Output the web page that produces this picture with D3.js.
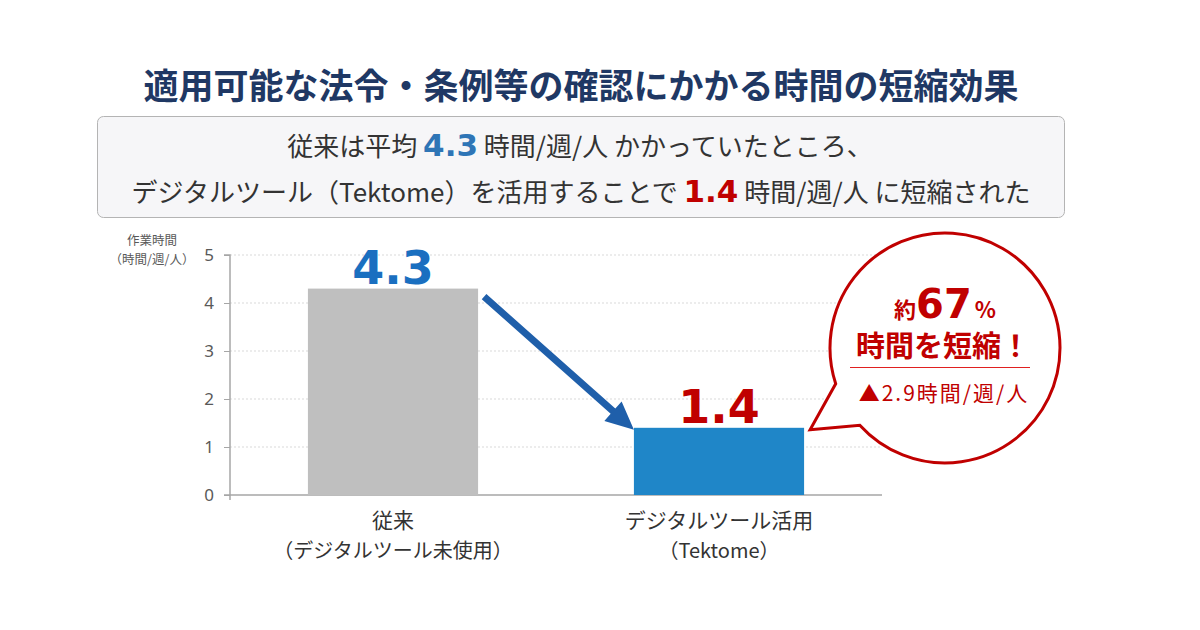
<!DOCTYPE html>
<html>
<head>
<meta charset="utf-8">
<script src="https://cdn.jsdelivr.net/npm/d3@7"></script>
<style>
  body { margin: 0; background: #fff; }
  svg { display: block; }
  .jp { font-family: "Noto Sans CJK JP", "Noto Sans", sans-serif; }
  .num { font-family: "DejaVu Sans", Verdana, sans-serif; font-weight: bold; }
</style>
</head>
<body>
<svg id="chart" width="1200" height="630"></svg>
<script>
// data
var categories = ["従来", "デジタルツール活用"];
var subLabels = ["（デジタルツール未使用）", "（Tektome）"];
var values = [4.3, 1.4];
var yTicks = [0, 1, 2, 3, 4, 5];
var reduction = 2.9;
var reductionPct = 67;

var titleText = "適用可能な法令・条例等の確認にかかる時間の短縮効果";
var yTitle = ["作業時間", "（時間/週/人）"];

var svg = d3.select("#chart");

// layout
var lPad = 230, rEdge = 882, tPad = 255, baseY = 495;

var x = d3.scaleBand()
  .domain(categories)
  .range([lPad, rEdge])
  .paddingInner(0.478)
  .paddingOuter(0.239);

var y = d3.scaleLinear()
  .domain([0, 5])
  .range([baseY, tPad]);

// title
svg.append("text")
  .attr("class", "jp")
  .attr("x", 581).attr("y", 99)
  .attr("text-anchor", "middle")
  .attr("font-size", 35).attr("font-weight", "bold")
  .attr("fill", "#1f3864")
  .text(titleText);

// summary box
svg.append("rect")
  .attr("x", 97.5).attr("y", 116.5)
  .attr("width", 967).attr("height", 101)
  .attr("rx", 6)
  .attr("fill", "#f6f6f8")
  .attr("stroke", "#b4b4b4");

var line1 = svg.append("text").attr("class", "jp")
  .attr("x", 580).attr("y", 156)
  .attr("text-anchor", "middle")
  .attr("font-size", 26).attr("fill", "#333");
line1.append("tspan").text("従来は平均 ");
line1.append("tspan").attr("class", "num").attr("font-size", 31)
  .attr("fill", "#2e75b6").text(values[0]);
line1.append("tspan").text(" 時間/週/人 かかっていたところ、");

var line2 = svg.append("text").attr("class", "jp")
  .attr("x", 581).attr("y", 202)
  .attr("text-anchor", "middle")
  .attr("font-size", 26).attr("fill", "#333");
line2.append("tspan").text("デジタルツール（Tektome）を活用することで ");
line2.append("tspan").attr("class", "num").attr("font-size", 31)
  .attr("fill", "#c00000").text(values[1]);
line2.append("tspan").text(" 時間/週/人 に短縮された");

// gridlines
svg.append("g")
  .selectAll("line")
  .data(yTicks.slice(1))
  .enter().append("line")
  .attr("x1", lPad).attr("x2", rEdge)
  .attr("y1", function(d) { return y(d); })
  .attr("y2", function(d) { return y(d); })
  .attr("stroke", "#d9d9d9")
  .attr("stroke-dasharray", "2,2");

// y axis
var yAxis = d3.axisLeft(y)
  .tickValues(yTicks)
  .tickSize(6)
  .tickPadding(10)
  .tickFormat(d3.format("d"));

var yg = svg.append("g")
  .attr("transform", "translate(" + lPad + ",0)")
  .call(yAxis);
yg.select(".domain").attr("stroke", "#a6a6a6").attr("stroke-width", 1.5)
  .attr("d", "M-6," + tPad + "H0V" + (baseY + 5));
yg.selectAll(".tick line").attr("stroke", "#a6a6a6");
yg.selectAll(".tick text")
  .attr("font-family", "Noto Sans, sans-serif")
  .attr("font-size", 17).attr("fill", "#595959");

// x baseline
svg.append("line")
  .attr("x1", lPad - 6).attr("x2", rEdge)
  .attr("y1", baseY).attr("y2", baseY)
  .attr("stroke", "#a6a6a6").attr("stroke-width", 1.5);

// y title
svg.append("g").selectAll("text")
  .data(yTitle)
  .enter().append("text")
  .attr("class", "jp")
  .attr("x", 152)
  .attr("y", function(d, i) { return 245 + i * 18.5; })
  .attr("text-anchor", "middle")
  .attr("font-size", 12.5).attr("fill", "#595959")
  .text(function(d) { return d; });

// bars
var barColors = ["#bfbfbf", "#1f86c8"];
svg.append("g").selectAll("rect")
  .data(values)
  .enter().append("rect")
  .attr("x", function(d, i) { return x(categories[i]); })
  .attr("y", function(d) { return y(d); })
  .attr("width", x.bandwidth())
  .attr("height", function(d) { return baseY - y(d); })
  .attr("fill", function(d, i) { return barColors[i]; });

// value labels
var labelColors = ["#1a6fc0", "#c00000"];
svg.append("g").selectAll("text")
  .data(values)
  .enter().append("text")
  .attr("class", "num")
  .attr("x", function(d, i) { return x(categories[i]) + x.bandwidth() / 2; })
  .attr("y", function(d) { return y(d) - 5; })
  .attr("text-anchor", "middle")
  .attr("font-size", 46)
  .attr("fill", function(d, i) { return labelColors[i]; })
  .text(function(d) { return d.toFixed(1); });

// category labels
var xl = svg.append("g").selectAll("text")
  .data(categories)
  .enter().append("text")
  .attr("class", "jp")
  .attr("x", function(d) { return x(d) + x.bandwidth() / 2; })
  .attr("y", 528)
  .attr("text-anchor", "middle")
  .attr("font-size", 20).attr("fill", "#333");
xl.append("tspan").attr("font-size", 21).text(function(d) { return d; });
xl.append("tspan")
  .attr("x", function(d) { return x(d) + x.bandwidth() / 2; })
  .attr("dy", 30)
  .text(function(d, i) { return subLabels[i]; });

// arrow from bar 1 to bar 2
var ax0 = x(categories[0]) + x.bandwidth() + 6, ay0 = y(values[0]) + 8;
var ax1 = x(categories[1]), ay1 = y(values[1]) + 2;
var ang = Math.atan2(ay1 - ay0, ax1 - ax0);
var headLen = 28, headW = 13, shaft = 3.5;
var hx = ax1 - headLen * Math.cos(ang), hy = ay1 - headLen * Math.sin(ang);
var px = -Math.sin(ang), py = Math.cos(ang);
svg.append("path")
  .attr("d", "M" + (ax0 + px * shaft) + "," + (ay0 + py * shaft) +
    "L" + (hx + px * shaft) + "," + (hy + py * shaft) +
    "L" + (hx + px * headW) + "," + (hy + py * headW) +
    "L" + ax1 + "," + ay1 +
    "L" + (hx - px * headW) + "," + (hy - py * headW) +
    "L" + (hx - px * shaft) + "," + (hy - py * shaft) +
    "L" + (ax0 - px * shaft) + "," + (ay0 - py * shaft) + "Z")
  .attr("fill", "#1f5faa");

// speech bubble
var cx = 945, cy = 348, r = 115;
var a1 = 137.8 * Math.PI / 180, a2 = 161.9 * Math.PI / 180;
var tipX = x(categories[1]) + x.bandwidth() + 6, tipY = y(values[1]) + 2;
svg.append("path")
  .attr("d", "M" + (cx + r * Math.cos(a1)) + "," + (cy + r * Math.sin(a1)) +
    "A" + r + "," + r + " 0 1 0 " + (cx + r * Math.cos(a2)) + "," + (cy + r * Math.sin(a2)) +
    "L" + tipX + "," + tipY + "Z")
  .attr("fill", "#fff")
  .attr("stroke", "#c00000")
  .attr("stroke-width", 3)
  .attr("stroke-linejoin", "miter");

var pct = svg.append("text")
  .attr("x", cx).attr("y", 318)
  .attr("text-anchor", "middle")
  .attr("fill", "#c00000");
pct.append("tspan").attr("class", "jp").attr("font-weight", "bold")
  .attr("font-size", 22).text("約");
pct.append("tspan").attr("class", "num").attr("font-size", 40).text(reductionPct);
pct.append("tspan").attr("class", "jp").attr("font-weight", "bold")
  .attr("font-size", 22).attr("dx", 3).text("%");

svg.append("text").attr("class", "jp")
  .attr("x", cx - 2).attr("y", 357)
  .attr("text-anchor", "middle")
  .attr("font-size", 29).attr("font-weight", "bold")
  .attr("fill", "#c00000")
  .text("時間を短縮！");

svg.append("line")
  .attr("x1", 850).attr("x2", 1030)
  .attr("y1", 367.5).attr("y2", 367.5)
  .attr("stroke", "#e02020").attr("stroke-width", 1.2);

svg.append("text").attr("class", "jp")
  .attr("x", cx - 1).attr("y", 401)
  .attr("text-anchor", "middle")
  .attr("font-size", 21)
  .attr("letter-spacing", 2)
  .attr("fill", "#c00000")
  .text("▲" + reduction + "時間/週/人");
</script>
</body>
</html>
